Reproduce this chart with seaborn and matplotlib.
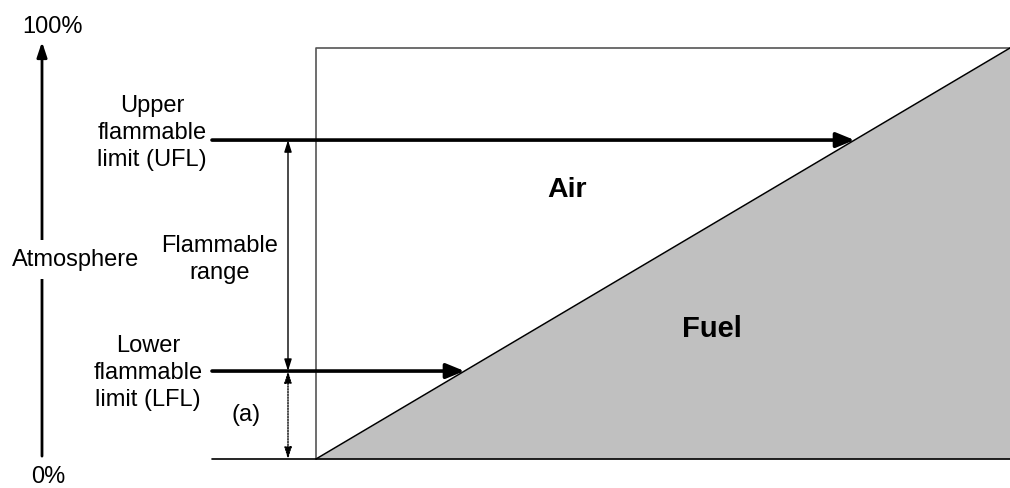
import matplotlib
matplotlib.use("Agg")
import matplotlib.pyplot as plt
import seaborn as sns
import pandas as pd

# Flammability diagram values (percent of atmosphere that is fuel)
fuel_frac = [0.0, 1.0]
fuel_pct = [0.0, 100.0]
ufl = 77.6
lfl = 21.4
scale_ends = [0.0, 101.5]

sns.set_style("white")
plt.rcParams["font.family"] = ["Liberation Sans", "DejaVu Sans"]
plt.rcParams["text.color"] = "black"

fig = plt.figure(figsize=(10.1, 4.88), dpi=100)
ax = fig.add_axes([0, 0, 1, 1])
ax.set_xlim(-316 / 694, 1.0)
ax.set_ylim(-29 / 4.11, 459 / 4.11)
ax.axis("off")

# fuel region and the diagonal
df = pd.DataFrame({"x": fuel_frac, "y": fuel_pct})
ax.fill_between(df["x"], df["y"], 0, color="#c0c0c0", lw=0, zorder=1)
sns.lineplot(data=df, x="x", y="y", color="black", lw=1.1, ax=ax, zorder=3)

# box
ax.plot([0, 0, 1], [0, 100, 100], color="#555555", lw=1.2, zorder=2)
x_left = -104 / 694
ax.plot([x_left, 1], [0, 0], color="black", lw=1.2, zorder=2)

# UFL / LFL arrows to the diagonal
for lvl in (ufl, lfl):
    ax.annotate("", xy=(lvl / 100, lvl), xytext=(x_left, lvl),
                arrowprops=dict(arrowstyle="-|>,head_length=1.1,head_width=0.45",
                                color="black", lw=2.6, shrinkA=0, shrinkB=0),
                zorder=4)

# flammable range double arrow and (a) dotted arrow
x_rng = -28 / 694
ax.annotate("", xy=(x_rng, ufl), xytext=(x_rng, lfl),
            arrowprops=dict(arrowstyle="<|-|>,head_length=0.7,head_width=0.22",
                            color="black", lw=1.0, shrinkA=0, shrinkB=0))
ax.annotate("", xy=(x_rng, lfl), xytext=(x_rng, 0),
            arrowprops=dict(arrowstyle="<|-|>,head_length=0.7,head_width=0.22",
                            color="black", lw=1.0, ls=(0, (1, 1)),
                            shrinkA=0, shrinkB=0))

# atmosphere axis
x_atm = -274 / 694
ax.annotate("", xy=(x_atm, scale_ends[1]), xytext=(x_atm, scale_ends[0] + 0.7),
            arrowprops=dict(arrowstyle="-|>,head_length=0.9,head_width=0.3",
                            color="black", lw=2.0, shrinkA=0, shrinkB=0))

fs = 17
ls = 1.3
ax.text(-240 / 694, 48.5, "Atmosphere", ha="center", va="center", fontsize=fs,
        bbox=dict(facecolor="white", edgecolor="none", pad=6), zorder=5)
ax.text(-264 / 694, 105.2, "100%", ha="center", va="center", fontsize=fs)
ax.text(-268 / 694, -4.5, "0%", ha="center", va="center", fontsize=fs)
ax.text(-164 / 694, 79.4, "Upper\nflammable\nlimit (UFL)", ha="center", va="center",
        fontsize=fs, linespacing=ls)
ax.text(-168 / 694, 21.0, "Lower\nflammable\nlimit (LFL)", ha="center", va="center",
        fontsize=fs, linespacing=ls)
ax.text(-96 / 694, 48.5, "Flammable\nrange", ha="center", va="center",
        fontsize=fs, linespacing=ls)
ax.text(-70 / 694, 10.8, "(a)", ha="center", va="center", fontsize=fs)
ax.text(251 / 694, 65.4, "Air", ha="center", va="center", fontsize=20.5, fontweight="bold")
ax.text(396 / 694, 31.6, "Fuel", ha="center", va="center", fontsize=21, fontweight="bold")

fig.savefig("out.png", dpi=100)
